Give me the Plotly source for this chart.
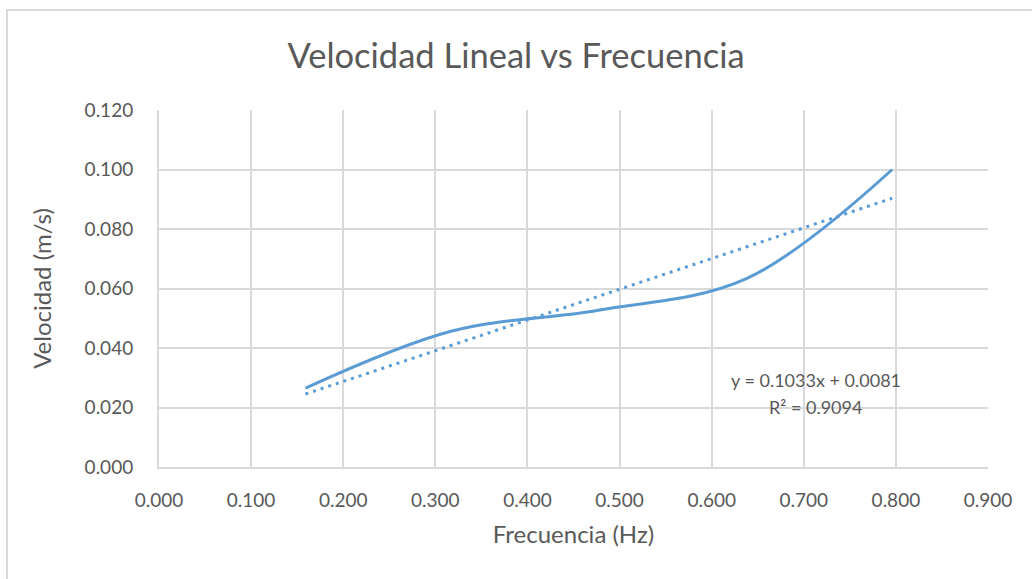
import plotly.graph_objects as go

# Measured data: frequency (Hz) and linear velocity (m/s)
frecuencia = [0.159, 0.318, 0.477, 0.637, 0.796]
velocidad = [0.0265, 0.0457, 0.0527, 0.0632, 0.1000]

# Linear trendline reported on the chart
TREND_SLOPE = 0.1033
TREND_INTERCEPT = 0.0081
TREND_R2 = 0.9094

x_ticks = [0.0, 0.1, 0.2, 0.3, 0.4, 0.5, 0.6, 0.7, 0.8, 0.9]
y_ticks = [0.0, 0.02, 0.04, 0.06, 0.08, 0.10, 0.12]

FONT = "Lato"
TEXT = "#595959"
GRID = "#d9d9d9"
BLUE = "#5b9bd5"

trend_x = [min(frecuencia), max(frecuencia)]
trend_y = [TREND_SLOPE * v + TREND_INTERCEPT for v in trend_x]

fig = go.Figure()
fig.add_trace(go.Scatter(
    x=frecuencia, y=velocidad, mode="lines",
    line=dict(color=BLUE, width=3, shape="spline", smoothing=1),
    showlegend=False, hoverinfo="x+y",
))
fig.add_trace(go.Scatter(
    x=trend_x, y=trend_y, mode="lines",
    line=dict(color=BLUE, width=3, dash="3px,5px"),
    showlegend=False, hoverinfo="skip",
))

# Trendline equation and R² label, two centred lines
for text, ypos in [
    (f"y = {TREND_SLOPE:.4f}x + {TREND_INTERCEPT:.4f}", 0.0291),
    (f"R² = {TREND_R2:.4f}", 0.0201),
]:
    fig.add_annotation(
        x=0.713, y=ypos, xref="x", yref="y", text=text,
        showarrow=False, xanchor="center", yanchor="middle",
        font=dict(family=FONT, size=18, color=TEXT),
    )

# Outer chart-area frame
fig.add_shape(
    type="rect", xref="paper", yref="paper",
    x0=-152 / 829, x1=1.2, y0=-0.4, y1=1 + 100 / 357,
    line=dict(color=GRID, width=2), fillcolor="rgba(0,0,0,0)", layer="below",
)

fig.update_layout(
    width=1032, height=579,
    margin=dict(l=159, r=44, t=110, b=112),
    paper_bgcolor="white", plot_bgcolor="white",
    font=dict(family=FONT, color=TEXT),
    title=dict(
        text="Velocidad Lineal vs Frecuencia",
        x=0.5, xref="container", xanchor="center",
        y=1 - 56 / 579, yref="container", yanchor="middle",
        font=dict(family=FONT, size=34.5, color=TEXT),
    ),
    xaxis=dict(
        range=[0, 0.9], tickvals=x_ticks, tickformat=".3f",
        showgrid=True, gridcolor=GRID, gridwidth=2,
        showline=True, linecolor=GRID, linewidth=2,
        zeroline=False, ticks="", ticklabelstandoff=15,
        tickfont=dict(family=FONT, size=19, color=TEXT),
        title=dict(text="Frecuencia (Hz)", standoff=16,
                   font=dict(family=FONT, size=24, color=TEXT)),
        fixedrange=True,
    ),
    yaxis=dict(
        range=[0, 0.12], tickvals=y_ticks, tickformat=".3f",
        showgrid=True, gridcolor=GRID, gridwidth=2,
        showline=True, linecolor=GRID, linewidth=2,
        zeroline=False, ticks="", ticklabelstandoff=20,
        tickfont=dict(family=FONT, size=19, color=TEXT),
        title=dict(text="Velocidad (m/s)", standoff=26,
                   font=dict(family=FONT, size=24, color=TEXT)),
        fixedrange=True,
    ),
)

fig.write_html("out.html", config={"displayModeBar": False})
